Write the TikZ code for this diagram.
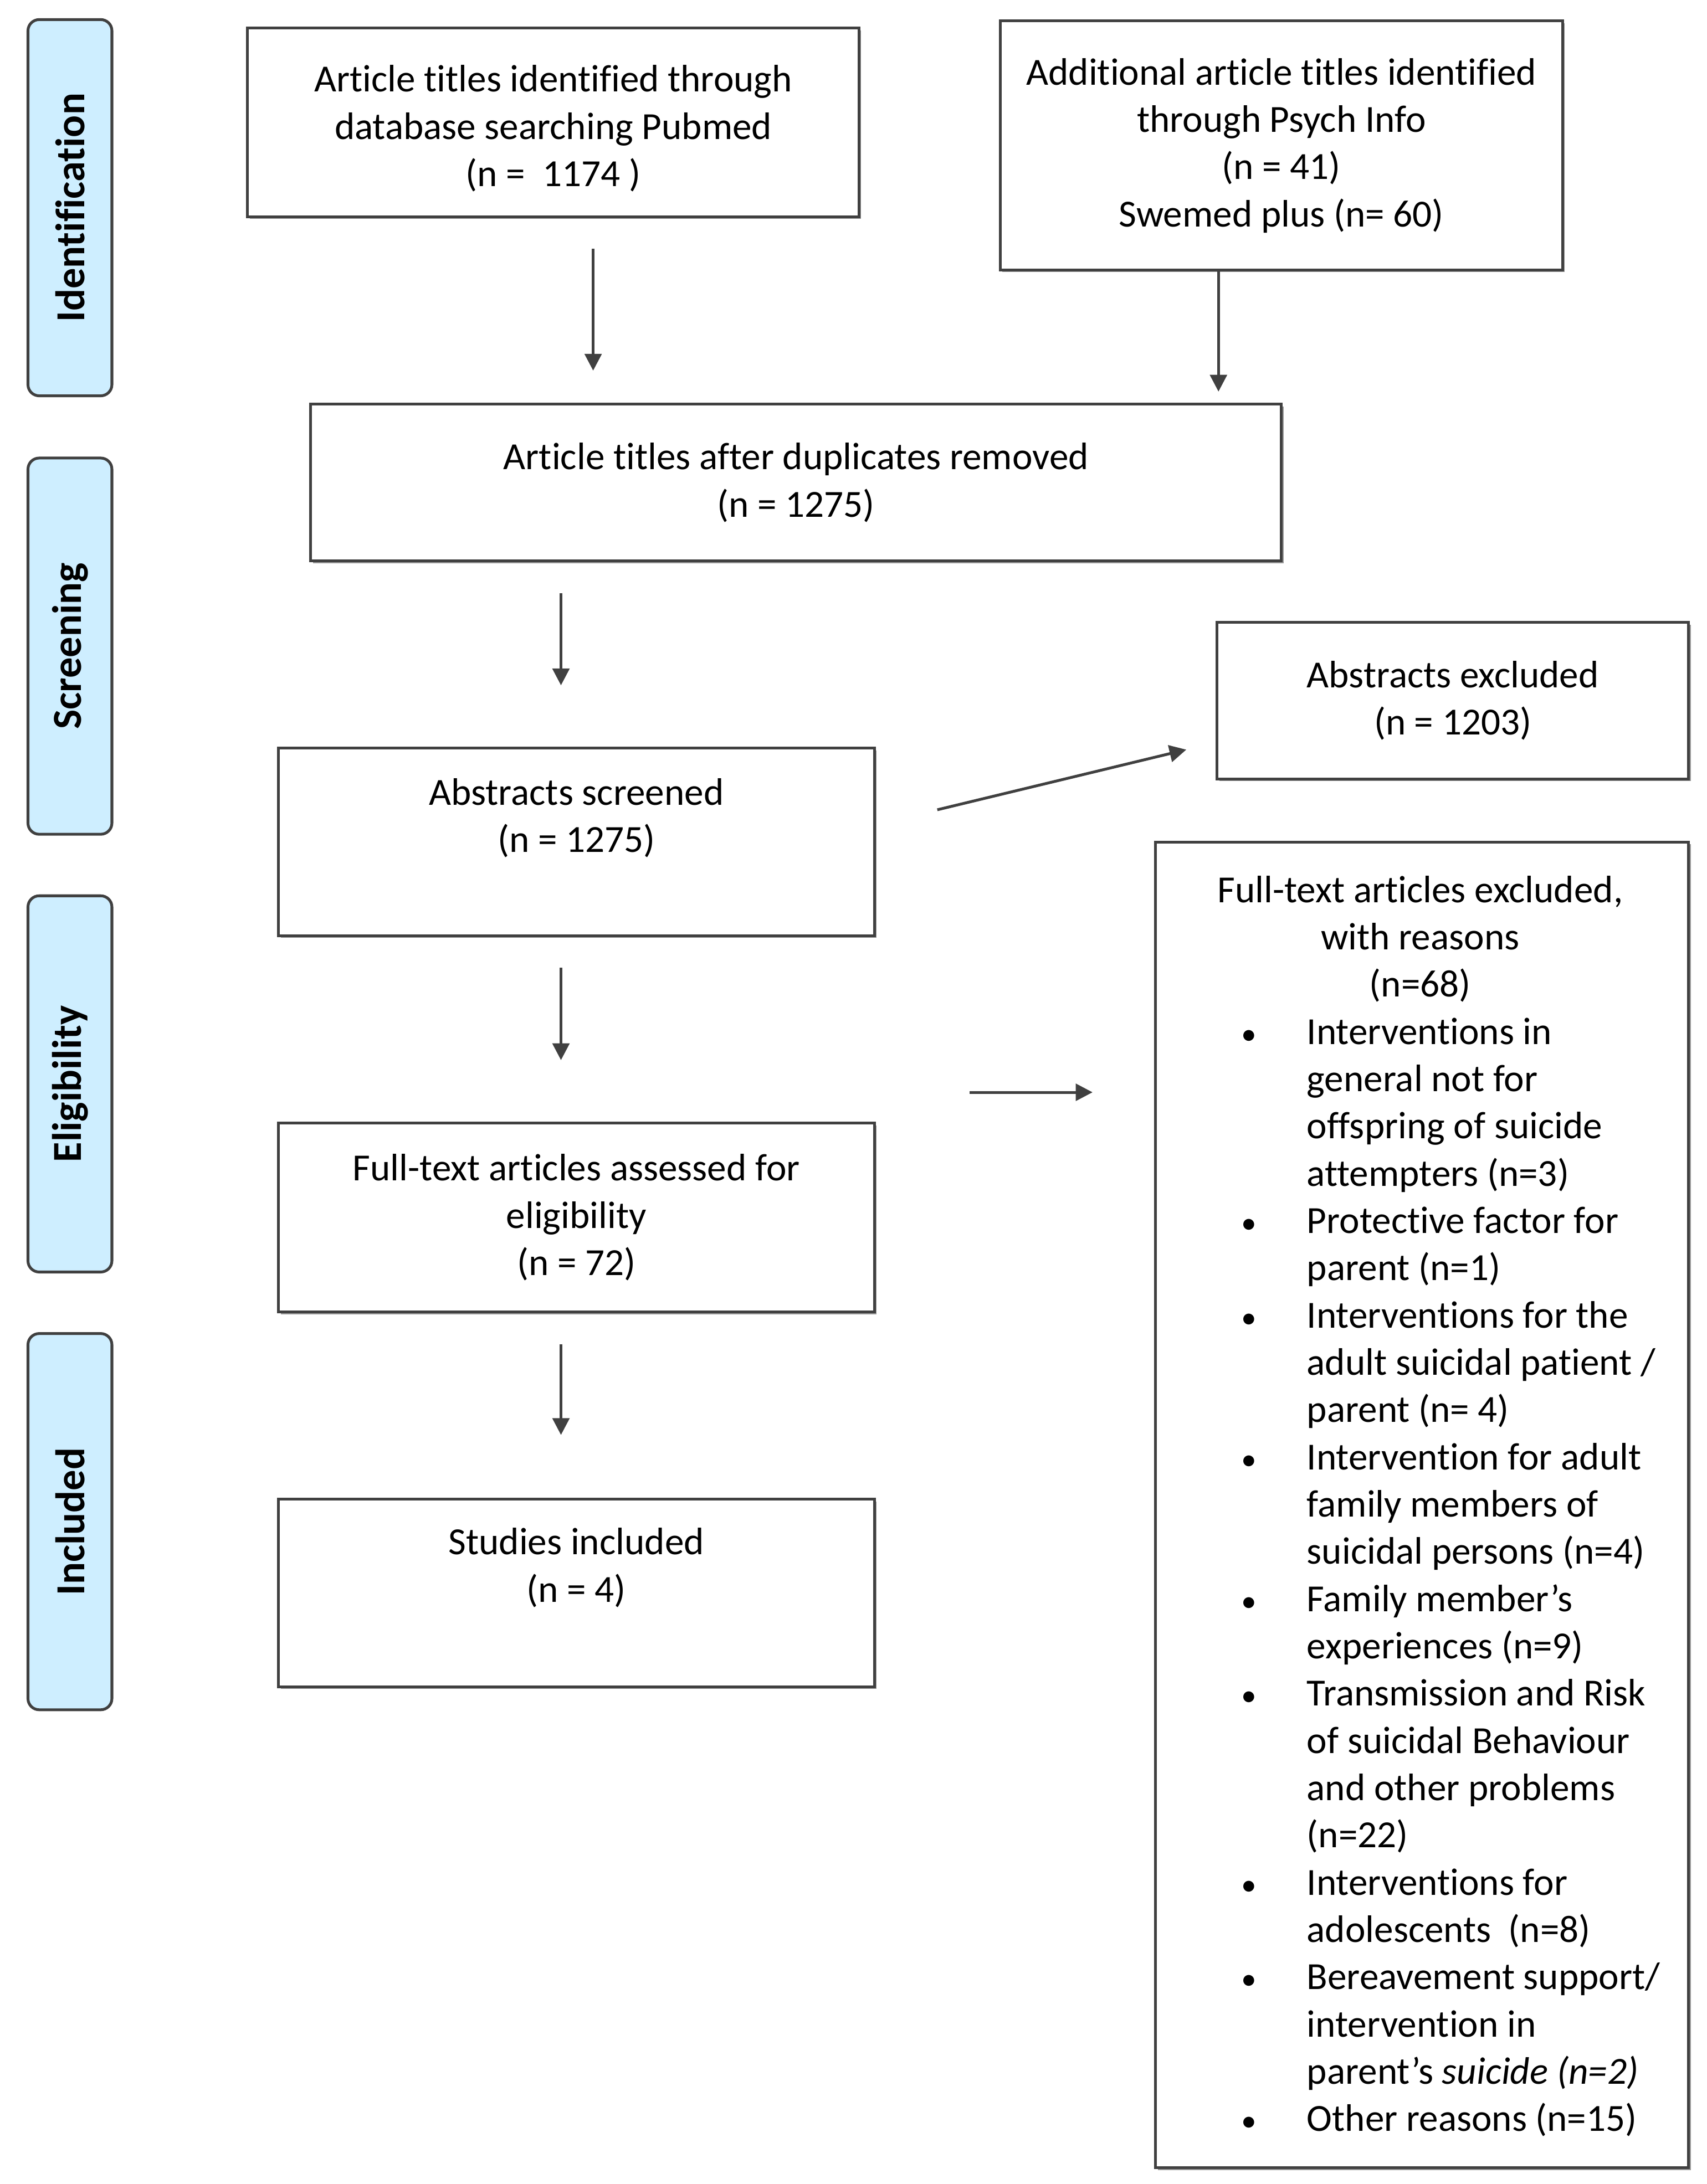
\documentclass[tikz,border=0pt]{standalone}
\usepackage{fontspec}
\setmainfont{Carlito}[Ligatures=CommonOff]
\usetikzlibrary{arrows.meta,shadows}
\definecolor{lblue}{RGB}{206,238,255}
\definecolor{edge}{RGB}{64,64,64}
\newcommand{\blt}{{\fontsize{22}{22}\selectfont\textbullet}}
\begin{document}
\begin{tikzpicture}[x=1pt,y=-1pt,
  every node/.style={font=\fontsize{27.4}{33.8}\selectfont},
  box/.style={draw=edge, line width=2pt, fill=white, align=center, inner sep=0pt,
    drop shadow={shadow xshift=1.6pt, shadow yshift=-1.6pt, fill=black!40, opacity=1}},
  side/.style={draw=edge, line width=2pt, fill=lblue, rounded corners=8pt, rotate=90,
    minimum width=269pt, minimum height=60pt, inner sep=0pt,
    font=\fontsize{29.5}{34}\selectfont\bfseries},
  arr/.style={draw=edge, line width=2pt, -{Triangle[length=12pt,width=12pt]}}
]
\path[use as bounding box] (0,0) rectangle (1220.2,1561.6);

% phase labels
\node[side] (ident)  at (50,148.5) {Identification};
\node[side] (screen) at (50,462)   {Screening};
\node[side] (elig)   at (50,775)   {Eligibility};
\node[side] (incl)   at (50,1088)  {Included};

% boxes
\node[box, minimum width=437pt, minimum height=135pt] (pubmed) at (395.5,87.5)
  {\\[-6pt]Article titles identified through\\database searching Pubmed\\(n =\ \ 1174 )};
\node[box, minimum width=402pt, minimum height=178pt] (psych) at (916,104)
  {Additional article titles identified\\through Psych Info\\(n = 41)\\Swemed plus (n= 60)};
\node[box, minimum width=694pt, minimum height=112pt] (dedup) at (569,345)
  {Article titles after duplicates removed\\(n = 1275)};
\node[box, minimum width=337pt, minimum height=112pt] (absex) at (1038.5,501)
  {Abstracts excluded\\(n = 1203)};
\node[box, minimum width=426pt, minimum height=134pt] (abscr) at (412,602)
  {Abstracts screened\\(n = 1275)\\[-6pt]\strut};
\node[box, minimum width=426pt, minimum height=135pt] (ftass) at (412,870.5)
  {Full-text articles assessed for\\eligibility\\(n = 72)};
\node[box, minimum width=426pt, minimum height=134pt] (incbox) at (412,1139)
  {Studies included\\(n = 4)\\[-4pt]\strut};
\node[box, minimum width=381pt, minimum height=948pt] (ftex) at (1016.5,1076) {};

\node[anchor=north west, inner sep=0pt] (ftlist) at (887,621.3) {%
\begin{tabular}{@{}p{47pt}@{}l@{}}
\multicolumn{2}{@{}l@{}}{\makebox[256pt][c]{Full-text articles excluded,}}\\
\multicolumn{2}{@{}l@{}}{\makebox[256pt][c]{with reasons}}\\
\multicolumn{2}{@{}l@{}}{\makebox[256pt][c]{(n=68)}}\\
\blt & Interventions in\\
 & general not for\\
 & offspring of suicide\\
 & attempters (n=3)\\
\blt & Protective factor for\\
 & parent (n=1)\\
\blt & Interventions for the\\
 & adult suicidal patient /\\
 & parent (n= 4)\\
\blt & Intervention for adult\\
 & family members of\\
 & suicidal persons (n=4)\\
\blt & Family member’s\\
 & experiences (n=9)\\
\blt & Transmission and Risk\\
 & of suicidal Behaviour\\
 & and other problems\\
 & (n=22)\\
\blt & Interventions for\\
 & adolescents\ \ (n=8)\\
\blt & Bereavement support/\\
 & intervention in\\
 & parent’s \textit{suicide (n=2)}\\
\blt & Other reasons (n=15)
\end{tabular}};

% arrow end points
\coordinate (a1s) at (424,178);  \coordinate (a1e) at (424,265);
\coordinate (a2e) at (871,280);
\coordinate (a3s) at (401,424);  \coordinate (a3e) at (401,490);
\coordinate (a4s) at (670,579);  \coordinate (a4e) at (848,536);
\coordinate (a5s) at (401,692);  \coordinate (a5e) at (401,758);
\coordinate (a6s) at (693,781);  \coordinate (a6e) at (781,781);
\coordinate (a7s) at (401,961);  \coordinate (a7e) at (401,1026);

\draw[arr] (a1s) -- (a1e);
\draw[arr] (a2e |- psych.south) -- (a2e);
\draw[arr] (a3s) -- (a3e);
\draw[arr] (a4s) -- (a4e);
\draw[arr] (a5s) -- (a5e);
\draw[arr] (a6s) -- (a6e);
\draw[arr] (a7s) -- (a7e);
\end{tikzpicture}
\end{document}
